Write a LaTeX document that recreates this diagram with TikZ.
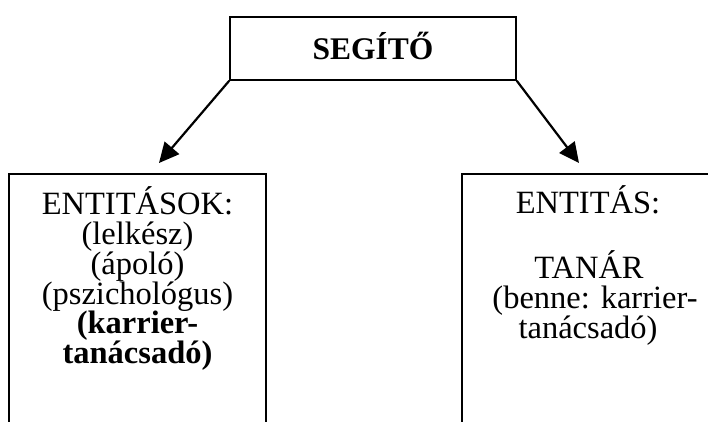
\documentclass[tikz,border=0pt]{standalone}
\usepackage{fontspec}
\setmainfont{Liberation Serif}
\usetikzlibrary{arrows.meta,positioning}

\newcommand{\diagfont}{\fontsize{32.5}{29.6}\selectfont}
\newcommand{\titlefont}{\fontsize{31.5}{30}\selectfont\bfseries}
\tikzset{
	frame/.style={draw,line width=1.6pt,inner sep=0pt},
	boxline/.style={anchor=base,inner sep=0pt,font=\diagfont},
	pointer/.style={line width=2.2pt,-{Triangle[length=20pt,width=19pt]}}
}

\begin{document}
\begin{tikzpicture}[x=1pt,y=-1pt]
		\useasboundingbox (0,0) rectangle (708,421);
		\clip (0,0) rectangle (708,421);
		\fill[white] (0,0) rectangle (708,421);
		\node[frame,minimum width=286pt,minimum height=63pt,text height=21pt,text depth=0pt,font=\titlefont] (segito) at (373,48.5) {SEGÍTŐ};
		\node[frame,anchor=north west,minimum width=257pt,minimum height=300pt] (entitasok) at (8,173) {};
		\node[frame,anchor=north west,minimum width=258pt,minimum height=300pt] (entitas) at (461,173) {};
		\node[boxline] (entitasokcim) at (137.5,214) {ENTITÁSOK:};
		\node[boxline] (lelkesz) at (137.5,244) {(lelkész)};
		\node[boxline] (apolo) at (137.5,274) {(ápoló)};
		\node[boxline] (pszichologus) at (137.5,304) {(pszichológus)};
		\node[boxline,font=\diagfont\bfseries] (karrier) at (137.5,333.5) {(karrier-};
		\node[boxline,font=\diagfont\bfseries] (tanacsado) at (137.5,363) {tanácsadó)};
		\node[boxline] (entitascim) at (588,213) {ENTITÁS:};
		\node[boxline] (tanar) at (589,278) {TANÁR};
		\node[boxline] (benne) at (595,308) {(benne: karrier-};
		\node[boxline] (bennetanacsado) at (588,338) {tanácsadó)};
		\coordinate (tipL) at (159,163);
		\coordinate (tipR) at (579,163);
		\draw[pointer] (segito.south west) -- (tipL);
		\draw[pointer] (segito.south east) -- (tipR);
\end{tikzpicture}
\end{document}
